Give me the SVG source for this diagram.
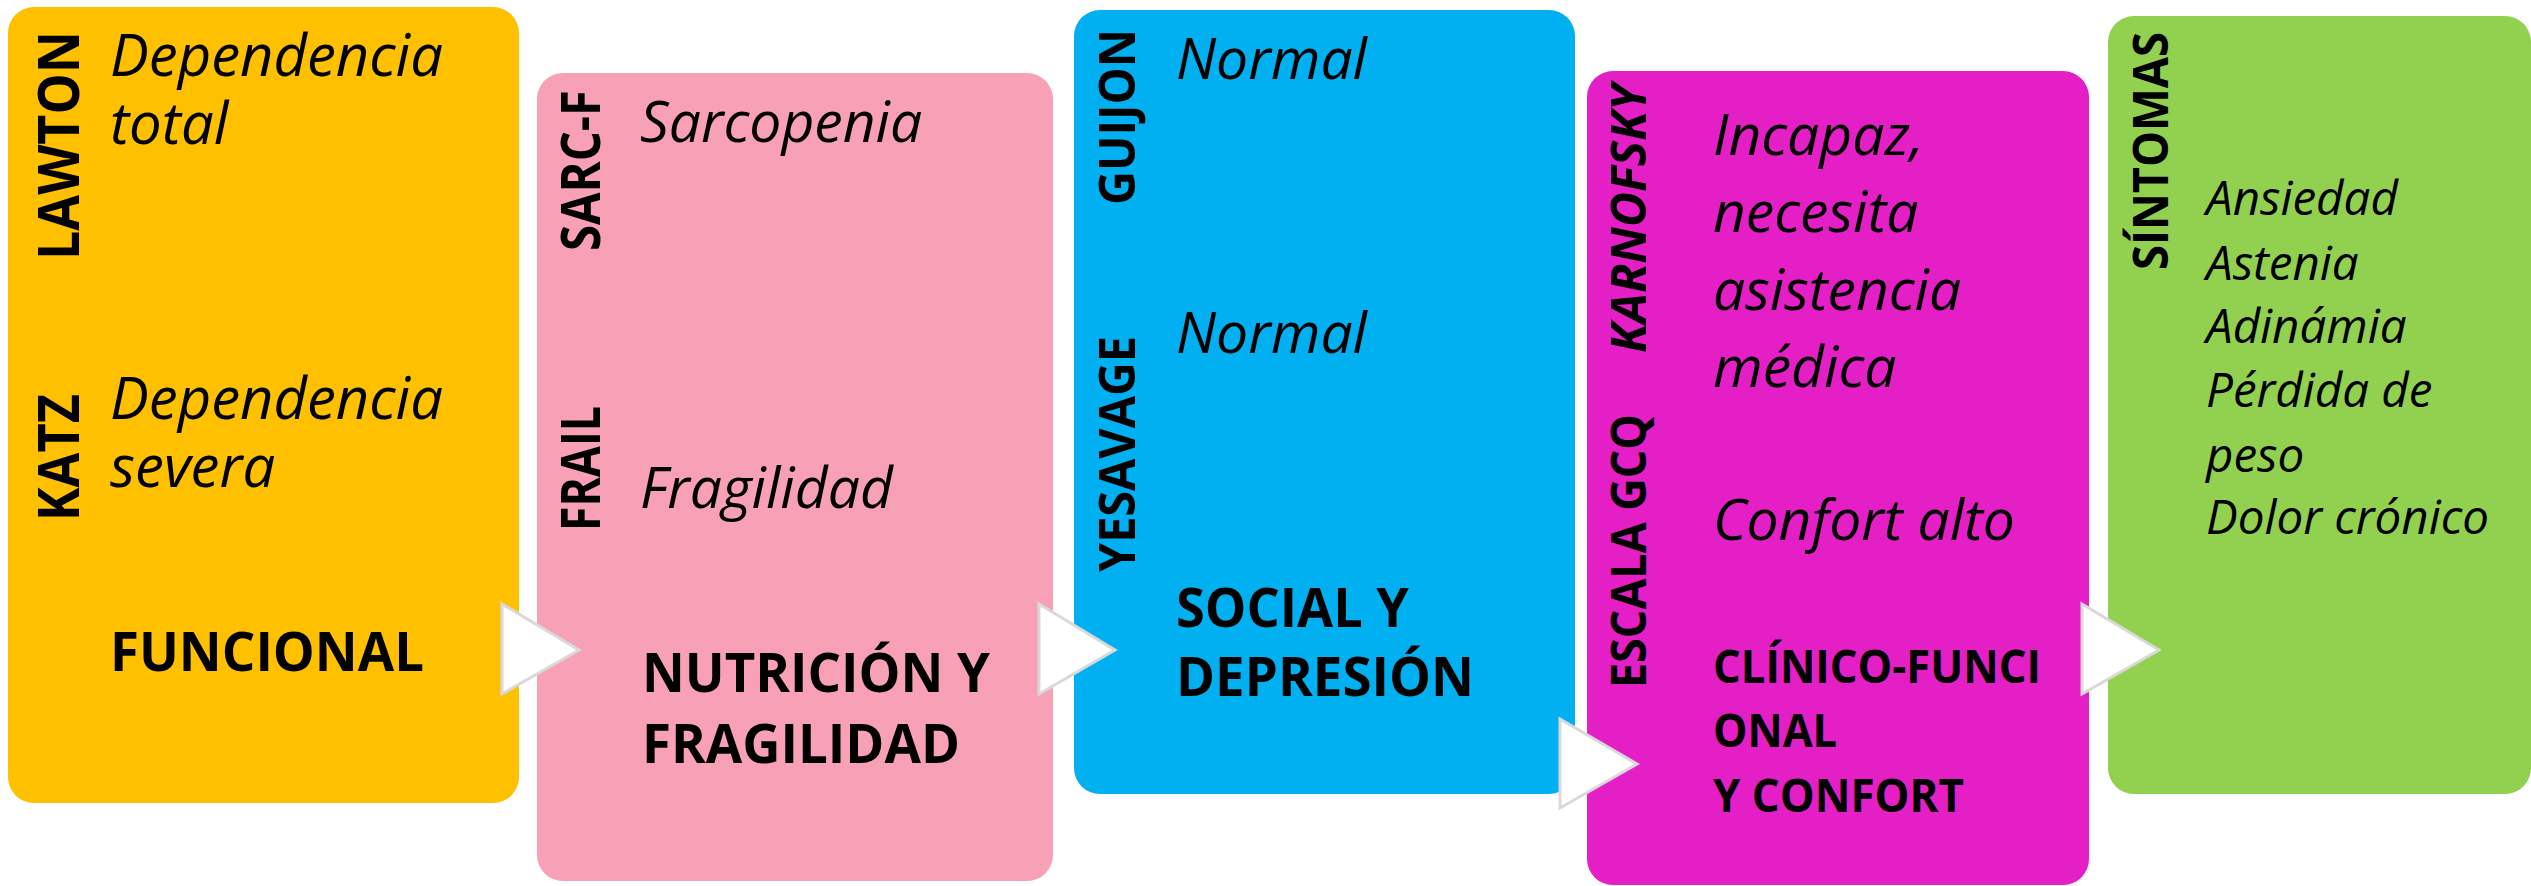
<svg xmlns="http://www.w3.org/2000/svg" width="2531" height="886" viewBox="0 0 2531 886">
<style>
.it{font-family:"Open Sans","Liberation Sans",sans-serif;font-style:italic;fill:#000}
.bd{font-family:"Open Sans","Liberation Sans",sans-serif;font-weight:bold;fill:#000}
.vt{font-family:"Open Sans","Liberation Sans",sans-serif;font-weight:bold;fill:#000}
.arr{fill:#fff;stroke:#d9d9d9;stroke-width:3;stroke-linejoin:miter}
</style>
<rect width="2531" height="886" fill="#fff"/>
<g id="funcional">
<rect x="8" y="7" width="511" height="796" rx="26" fill="#FFC000"/>
<text class="vt" font-size="58" transform="translate(79,260) rotate(-90)" textLength="229" lengthAdjust="spacingAndGlyphs">LAWTON</text>
<text class="vt" font-size="58" transform="translate(79,521) rotate(-90)" textLength="127" lengthAdjust="spacingAndGlyphs">KATZ</text>
<text class="it" font-size="58"><tspan x="110" y="76">Dependencia</tspan><tspan x="110" y="144">total</tspan></text>
<text class="it" font-size="58"><tspan x="110" y="419">Dependencia</tspan><tspan x="110" y="487">severa</tspan></text>
<text class="bd" font-size="54" x="110" y="671" textLength="314" lengthAdjust="spacingAndGlyphs">FUNCIONAL</text>
</g>
<g id="nutricion">
<rect x="537" y="73" width="516" height="808" rx="26" fill="#F7A0B6"/>
<text class="vt" font-size="53" transform="translate(600,251) rotate(-90)" textLength="161" lengthAdjust="spacingAndGlyphs">SARC-F</text>
<text class="vt" font-size="53" transform="translate(600,531) rotate(-90)" textLength="125" lengthAdjust="spacingAndGlyphs">FRAIL</text>
<text class="it" font-size="57" x="640" y="142">Sarcopenia</text>
<text class="it" font-size="57" x="640" y="508">Fragilidad</text>
<text class="bd" font-size="54"><tspan x="642" y="692" textLength="348" lengthAdjust="spacingAndGlyphs">NUTRICIÓN Y</tspan><tspan x="642" y="763" textLength="318" lengthAdjust="spacingAndGlyphs">FRAGILIDAD</tspan></text>
</g>
<g id="social">
<rect x="1074" y="10" width="501" height="784" rx="26" fill="#00B0F0"/>
<text class="vt" font-size="50" transform="translate(1135,205) rotate(-90)" textLength="176" lengthAdjust="spacingAndGlyphs">GUIJON</text>
<text class="vt" font-size="50" transform="translate(1135,572) rotate(-90)" textLength="236" lengthAdjust="spacingAndGlyphs">YESAVAGE</text>
<text class="it" font-size="57" x="1176" y="79">Normal</text>
<text class="it" font-size="57" x="1176" y="353">Normal</text>
<text class="bd" font-size="54"><tspan x="1176" y="627" textLength="233" lengthAdjust="spacingAndGlyphs">SOCIAL Y</tspan><tspan x="1176" y="696" textLength="298" lengthAdjust="spacingAndGlyphs">DEPRESIÓN</tspan></text>
</g>
<g id="clinico">
<rect x="1587" y="71" width="502" height="814" rx="26" fill="#E41FC5"/>
<text class="vt" font-size="48" font-style="italic" transform="translate(1646,353) rotate(-90)" textLength="269" lengthAdjust="spacingAndGlyphs">KARNOFSKY</text>
<text class="vt" font-size="48" transform="translate(1646,688) rotate(-90)" textLength="274" lengthAdjust="spacingAndGlyphs">ESCALA GCQ</text>
<text class="it" font-size="57"><tspan x="1713" y="155">Incapaz,</tspan><tspan x="1713" y="232">necesita</tspan><tspan x="1713" y="310">asistencia</tspan><tspan x="1713" y="387">médica</tspan></text>
<text class="it" font-size="57" x="1713" y="540">Confort alto</text>
<text class="bd" font-size="46"><tspan x="1713" y="683" textLength="328" lengthAdjust="spacingAndGlyphs">CLÍNICO-FUNCI</tspan><tspan x="1713" y="747" textLength="124" lengthAdjust="spacingAndGlyphs">ONAL</tspan><tspan x="1713" y="812" textLength="251" lengthAdjust="spacingAndGlyphs">Y CONFORT</tspan></text>
</g>
<g id="sintomas">
<rect x="2108" y="16" width="423" height="778" rx="26" fill="#92D050"/>
<text class="vt" font-size="49" transform="translate(2168,270) rotate(-90)" textLength="238" lengthAdjust="spacingAndGlyphs">SÍNTOMAS</text>
<text class="it" font-size="47.5"><tspan x="2206" y="215">Ansiedad</tspan><tspan x="2206" y="280">Astenia</tspan><tspan x="2206" y="343">Adinámia</tspan><tspan x="2206" y="407">Pérdida de</tspan><tspan x="2206" y="472">peso</tspan><tspan x="2206" y="534">Dolor crónico</tspan></text>
</g>
<g id="connectors">
<polygon class="arr" points="502,604 579,650 502,694"/>
<polygon class="arr" points="1039,604 1115,650 1039,694"/>
<polygon class="arr" points="1560,719 1637,764 1560,808"/>
<polygon class="arr" points="2082,604 2159,650 2082,694"/>
</g>
</svg>
